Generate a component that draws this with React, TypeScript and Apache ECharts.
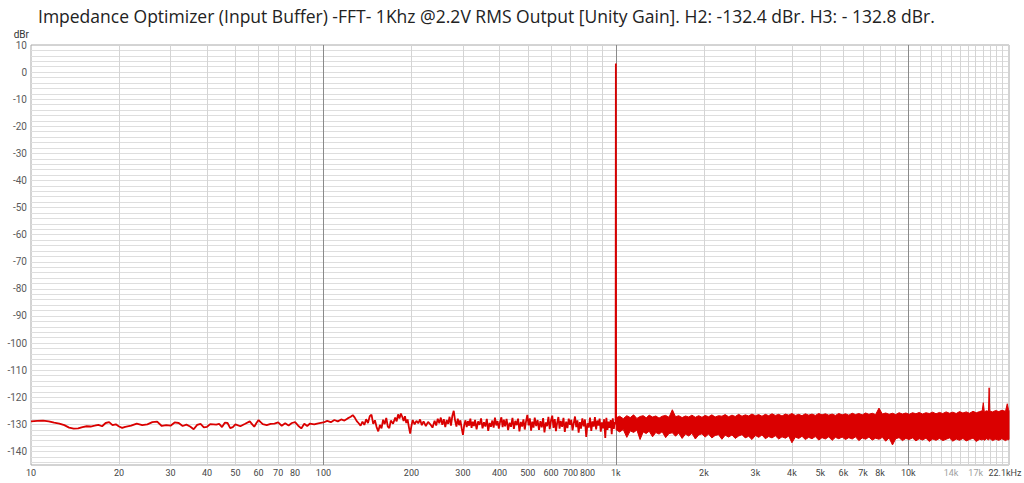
import React, { useEffect, useRef } from 'react';
import * as echarts from 'echarts';

const titleText =
  'Impedance Optimizer (Input Buffer) -FFT- 1Khz @2.2V RMS Output [Unity Gain]. H2: -132.4 dBr. H3: - 132.8 dBr.';

const RED = '#da0000';

// x tick labels [Hz, text]
const xTickLabels: [number, string][] = [
  [10, '10'], [20, '20'], [30, '30'], [40, '40'], [50, '50'], [60, '60'], [70, '70'], [80, '80'],
  [100, '100'], [200, '200'], [300, '300'], [400, '400'], [500, '500'], [600, '600'], [700, '700'], [800, '800'],
  [1000, '1k'], [2000, '2k'], [3000, '3k'], [4000, '4k'], [5000, '5k'], [6000, '6k'], [7000, '7k'], [8000, '8k'],
  [10000, '10k'], [14000, '14k'], [17000, '17k'], [22100, '22.1kHz'],
];
const faintLabelHz = [14000, 17000];

const minorGridHz = [
  20, 30, 40, 50, 60, 70, 80, 90,
  200, 300, 400, 500, 600, 700, 800, 900,
  2000, 3000, 4000, 5000, 6000, 7000, 8000, 9000,
  11000, 12000, 13000, 14000, 15000, 16000, 17000, 18000, 19000, 20000, 21000, 22000,
];
const decadeGridHz = [100, 1000, 10000];

// noise floor trace 10 Hz - 1 kHz (Hz, dBr)
const lowTrace: [number, number][] = [
  [10, -128.9], [10.5, -128.7], [11, -128.6], [11.5, -128.9], [12, -129.4], [12.5, -129.7], [13, -130.3],
  [13.5, -131.2], [14, -131.6], [14.5, -131.5], [15, -131.0], [15.5, -130.7], [16, -130.8], [16.5, -130.5],
  [17, -130.2], [17.5, -130.7], [18, -129.5], [18.5, -129.2], [19, -130.3], [19.5, -130.0], [20, -130.8],
  [20.5, -131.3], [21, -130.9], [22, -130.5], [23, -129.7], [24, -130.3], [25, -130.0], [26, -129.2],
  [27, -129.0], [28, -130.6], [29, -130.3], [30, -130.5], [31, -129.3], [32, -129.5], [33, -130.6],
  [34, -130.1], [35, -130.8], [36, -131.8], [37, -130.2], [38, -129.8], [39, -131.1], [40, -130.9],
  [41, -129.9], [42, -130.0], [43, -130.1], [44, -129.8], [45, -131.0], [46, -129.4], [47, -129.5],
  [48, -131.4], [49, -131.0], [50, -130.0], [52, -130.7], [54, -129.8], [56, -128.9], [57, -129.9],
  [58, -130.9], [59, -129.5], [60, -128.4], [61, -129.2], [62, -129.9], [64, -130.3], [66, -129.8],
  [68, -129.7], [70, -129.3], [72, -130.5], [74, -129.6], [76, -130.4], [78, -129.5], [80, -129.2],
  [82, -130.5], [84, -131.5], [86, -129.8], [88, -130.6], [90, -129.7], [93, -130.0], [96, -129.6],
  [100, -129.3], [103, -128.7], [106, -129.2], [109, -128.4], [112, -128.9], [115, -128.2], [118, -128.6],
  [121, -127.8], [124, -127.2], [126, -126.6], [128, -127.5], [130, -128.8], [132, -129.6], [134, -130.5],
  [136, -129.0], [138, -130.2], [140, -128.1], [142, -129.5], [144, -127.0], [146, -126.4], [148, -129.8],
  [150, -128.5], [152, -131.0], [154, -132.6], [156, -130.2], [158, -131.5], [160, -128.3], [162, -129.9],
  [164, -127.6], [166, -130.8], [168, -131.4], [170, -128.6], [173, -129.8], [176, -127.5], [178, -128.9],
  [180, -126.3], [182, -127.8], [184, -126.0], [186, -127.2], [188, -128.8], [190, -127.0], [192, -129.5],
  [194, -128.2], [196, -131.0], [198, -133.4], [200, -130.5], [202, -128.4], [205, -130.0], [208, -128.7],
  [211, -129.6], [214, -128.2], [217, -130.3], [220, -128.9], [224, -130.6], [228, -129.1], [232, -130.0],
  [236, -131.2], [240, -128.7], [243, -130.4], [246, -127.9], [249, -129.6], [252, -127.5], [255, -130.2],
  [258, -128.1], [261, -131.0], [264, -128.4], [267, -129.8], [270, -127.2], [273, -130.5], [276, -126.8],
  [279, -125.0], [282, -128.6], [285, -130.8], [288, -127.9], [291, -130.3], [294, -128.5], [297, -131.4],
  [300, -133.9], [303, -130.2], [306, -128.5], [309, -131.0], [312, -128.8], [315, -130.5], [318, -127.9],
  [321, -131.3], [324, -129.0], [327, -130.6], [330, -128.4], [334, -131.8], [338, -128.9], [342, -130.2],
  [346, -127.8], [350, -131.5], [354, -129.2], [358, -130.8], [362, -128.0], [366, -132.4], [370, -129.5],
  [374, -130.9], [378, -128.6], [382, -131.2], [386, -127.5], [390, -130.4], [394, -128.8], [398, -131.6],
  [402, -129.0], [406, -127.4], [410, -131.0], [414, -128.3], [418, -130.7], [423, -128.0], [428, -132.1],
  [433, -129.4], [438, -130.9], [443, -127.6], [448, -131.7], [453, -128.7], [458, -130.3], [463, -127.9],
  [468, -132.6], [473, -129.1], [478, -130.8], [483, -128.2], [488, -131.9], [493, -128.9], [498, -126.5],
  [503, -130.4], [508, -127.8], [513, -132.3], [518, -129.0], [523, -131.2], [528, -127.5], [534, -130.6],
  [540, -128.4], [546, -132.0], [552, -128.8], [558, -131.1], [564, -127.7], [570, -133.0], [576, -129.3],
  [582, -130.7], [588, -127.2], [594, -131.8], [600, -128.6], [606, -126.8], [612, -131.3], [618, -128.1],
  [624, -132.5], [630, -129.4], [636, -127.3], [642, -131.6], [648, -128.7], [655, -130.9], [662, -127.6],
  [669, -132.8], [676, -129.0], [683, -131.4], [690, -127.9], [697, -130.2], [704, -128.3], [711, -132.2],
  [718, -129.5], [725, -127.1], [732, -131.0], [739, -128.5], [746, -133.1], [753, -129.2], [760, -131.6],
  [768, -127.8], [776, -130.7], [784, -128.2], [792, -134.6], [800, -129.6], [808, -131.2], [816, -127.5],
  [824, -132.4], [832, -128.9], [840, -130.8], [848, -127.3], [856, -131.9], [864, -128.6], [872, -130.4],
  [880, -127.9], [888, -132.7], [896, -129.3], [904, -131.5], [912, -128.1], [920, -135.0], [928, -127.6],
  [936, -132.0], [944, -129.0], [952, -131.3], [960, -128.4], [968, -133.6], [976, -127.8], [984, -131.7],
  [992, -129.2], [998, -130.0],
];

// 1 kHz fundamental
const fundamental: [number, number][] = [[1000, 3.2], [1002, -129.6]];

// dense noise band above 1 kHz: [Hz, lower dBr, upper dBr]
const noiseBand: [number, number, number][] = [
  [1002, -132.0, -127.6], [1030, -132.8, -127.0], [1060, -131.9, -127.9], [1090, -134.8, -126.8],
  [1120, -132.4, -127.5], [1150, -133.0, -126.5], [1180, -132.1, -127.8], [1210, -135.6, -127.1],
  [1240, -132.8, -126.8], [1270, -133.4, -127.6], [1300, -132.5, -126.6], [1335, -134.6, -127.3],
  [1370, -133.0, -126.9], [1405, -133.6, -127.7], [1440, -132.7, -127.0], [1480, -134.9, -126.7],
  [1520, -133.4, -127.4], [1560, -133.1, -124.6], [1600, -134.4, -127.2], [1640, -133.2, -126.8],
  [1685, -135.2, -127.5], [1730, -133.6, -126.9], [1775, -134.3, -127.3], [1820, -133.3, -126.6],
  [1870, -135.4, -127.4], [1920, -133.9, -126.8], [1970, -133.5, -127.4], [2020, -134.7, -126.7],
  [2075, -133.6, -127.2], [2130, -135.0, -126.5], [2185, -134.1, -127.3], [2245, -133.8, -126.8],
  [2305, -135.5, -127.0], [2365, -134.0, -126.4], [2430, -134.7, -127.2], [2495, -133.9, -126.6],
  [2560, -135.2, -127.1], [2630, -134.3, -126.3], [2700, -133.8, -127.0], [2770, -135.0, -126.5],
  [2845, -134.4, -126.9], [2920, -135.6, -126.2], [3000, -134.1, -126.8], [3080, -134.8, -126.4],
  [3160, -133.9, -127.0], [3245, -135.3, -126.3], [3330, -134.5, -126.8], [3420, -135.0, -126.1],
  [3510, -134.2, -126.7], [3605, -135.4, -126.3], [3700, -134.6, -126.9], [3800, -135.1, -126.2],
  [3900, -134.3, -126.6], [4000, -136.8, -126.0], [4110, -134.7, -126.7], [4220, -135.2, -126.3],
  [4330, -134.4, -126.8], [4445, -135.6, -126.1], [4565, -134.8, -126.6], [4685, -135.3, -126.2],
  [4810, -134.5, -126.7], [4940, -135.8, -126.0], [5070, -134.9, -126.5], [5205, -135.4, -126.1],
  [5345, -134.6, -126.6], [5490, -135.9, -126.2], [5635, -134.8, -126.7], [5785, -135.3, -126.0],
  [5940, -134.7, -126.5], [6100, -135.6, -126.1], [6260, -134.9, -126.6], [6430, -135.4, -125.9],
  [6600, -134.6, -126.4], [6775, -136.0, -126.0], [6960, -135.0, -126.5], [7145, -135.5, -125.8],
  [7335, -134.7, -126.3], [7530, -135.8, -125.9], [7730, -135.1, -126.4], [7940, -135.5, -124.0],
  [8150, -134.8, -126.2], [8370, -136.2, -125.8], [8600, -135.0, -126.3], [8830, -137.6, -125.9],
  [9060, -135.3, -126.4], [9300, -134.9, -125.7], [9550, -136.0, -126.2], [9810, -135.2, -125.8],
  [10070, -135.6, -126.3], [10340, -135.0, -125.7], [10620, -136.1, -126.1], [10900, -135.3, -125.6],
  [11190, -135.8, -126.2], [11490, -135.1, -125.7], [11800, -136.3, -126.0], [12120, -135.4, -125.5],
  [12440, -135.9, -126.1], [12780, -135.2, -125.6], [13120, -136.0, -126.0], [13470, -135.5, -125.4],
  [13830, -135.0, -125.9], [14200, -136.2, -125.5], [14580, -135.4, -126.0], [14970, -135.9, -125.3],
  [15370, -135.2, -125.8], [15780, -136.1, -125.4], [16200, -135.6, -125.9], [16640, -135.1, -125.2],
  [17080, -136.3, -125.7], [17540, -135.5, -125.3], [17900, -135.8, -125.0], [18050, -135.4, -122.0],
  [18200, -135.9, -125.4], [18500, -135.3, -125.0], [18800, -135.7, -125.2], [18900, -135.6, -116.5],
  [19000, -135.2, -125.1], [19400, -136.0, -125.4], [19900, -135.5, -124.9], [20400, -135.9, -125.3],
  [20900, -135.3, -124.8], [21500, -136.0, -125.2], [21800, -135.6, -122.4], [22000, -135.8, -124.5],
  [22100, -135.4, -125.0],
];

const Y_MIN = -145;
const Y_MAX = 10;

export default function App() {
  const ref = useRef<HTMLDivElement>(null);

  useEffect(() => {
    if (!ref.current) return;
    const chart = echarts.init(ref.current, undefined, { renderer: 'svg' });

    const hGridDb: number[] = [];
    for (let v = Y_MIN + 1; v < Y_MAX; v += 2) hGridDb.push(v);

    const font = 'Open Sans';
    const tickFont = 'Roboto';

    const gridLines = [
      ...hGridDb.map((v) => ({ yAxis: v, lineStyle: { color: '#dedede', width: 1, type: 'solid' } })),
      ...minorGridHz.map((hz) => ({ xAxis: hz, lineStyle: { color: '#d4d4d4', width: 1, type: 'solid' } })),
      ...decadeGridHz.map((hz) => ({ xAxis: hz, lineStyle: { color: '#8a8a8a', width: 1, type: 'solid' } })),
    ];

    const labelLines = xTickLabels.map(([hz, text]) => ({
      xAxis: hz,
      lineStyle: { color: 'rgba(255,255,255,0)', width: 1, opacity: 1 },
      label: {
        show: true,
        opacity: 1,
        position: 'start',
        distance: 3,
        formatter: text,
        fontSize: 9,
        fontFamily: tickFont,
        color: faintLabelHz.includes(hz) ? '#a0a0a0' : '#444',
        padding: hz === 22100 ? [0, 8, 0, 0] : 0,
      },
    }));

    chart.setOption({
      animation: false,
      backgroundColor: '#ffffff',
      title: {
        text: titleText,
        left: 33,
        top: 2,
        textStyle: { fontFamily: font, fontSize: 17.5, fontWeight: 'normal', color: '#222' },
      },
      grid: {
        left: 31,
        right: 15,
        top: 45,
        bottom: 18,
        show: true,
        borderColor: '#a8a8a8',
        borderWidth: 1,
        backgroundColor: 'transparent',
      },
      xAxis: {
        type: 'log',
        logBase: 10,
        min: 10,
        max: 22100,
        axisLine: { show: false },
        axisTick: { show: false },
        axisLabel: { show: false },
        splitLine: { show: false },
      },
      yAxis: {
        type: 'value',
        min: Y_MIN,
        max: Y_MAX,
        interval: 5,
        name: 'dBr',
        nameLocation: 'end',
        nameGap: 6,
        nameTextStyle: {
          fontSize: 10,
          fontFamily: tickFont,
          color: '#333',
          align: 'right',
          verticalAlign: 'bottom',
          padding: [0, 2, 0, 0],
        },
        axisLine: { show: false },
        axisTick: { show: false },
        splitLine: { show: false },
        axisLabel: {
          fontSize: 10,
          fontFamily: tickFont,
          color: '#5a5a5a',
          margin: 4,
          formatter: (v: number) => (v % 10 === 0 ? String(v) : ''),
        },
      },
      series: [
        {
          type: 'line',
          data: [],
          silent: true,
          z: 0,
          markLine: {
            silent: true,
            z: 0,
            symbol: 'none',
            animation: false,
            label: { show: false },
            emphasis: { disabled: true },
            data: gridLines,
          },
        },
        {
          type: 'line',
          data: [],
          silent: true,
          z: 0,
          markLine: {
            silent: true,
            z: 0,
            symbol: 'none',
            animation: false,
            emphasis: { disabled: true },
            data: labelLines,
          },
        },
        {
          type: 'custom',
          coordinateSystem: 'cartesian2d',
          silent: true,
          z: 3,
          data: [[noiseBand[0][0], noiseBand[0][2]]],
          encode: { x: 0, y: 1 },
          renderItem: (_params: any, api: any) => {
            const upper = noiseBand.map(([f, , hi]) => api.coord([f, hi]));
            const lower = noiseBand
              .slice()
              .reverse()
              .map(([f, lo]) => api.coord([f, lo]));
            return {
              type: 'polygon',
              shape: { points: upper.concat(lower) },
              style: { fill: RED, stroke: RED, lineWidth: 1 },
            };
          },
        },
        {
          type: 'line',
          data: lowTrace.concat(fundamental),
          showSymbol: false,
          symbol: 'none',
          silent: true,
          z: 4,
          lineStyle: { color: RED, width: 1.8 },
        },
      ],
    });

    return () => chart.dispose();
  }, []);

  return (
    <div
      ref={ref}
      style={{ position: 'fixed', left: 0, top: 0, width: 1024, height: 483, background: '#fff' }}
    />
  );
}
